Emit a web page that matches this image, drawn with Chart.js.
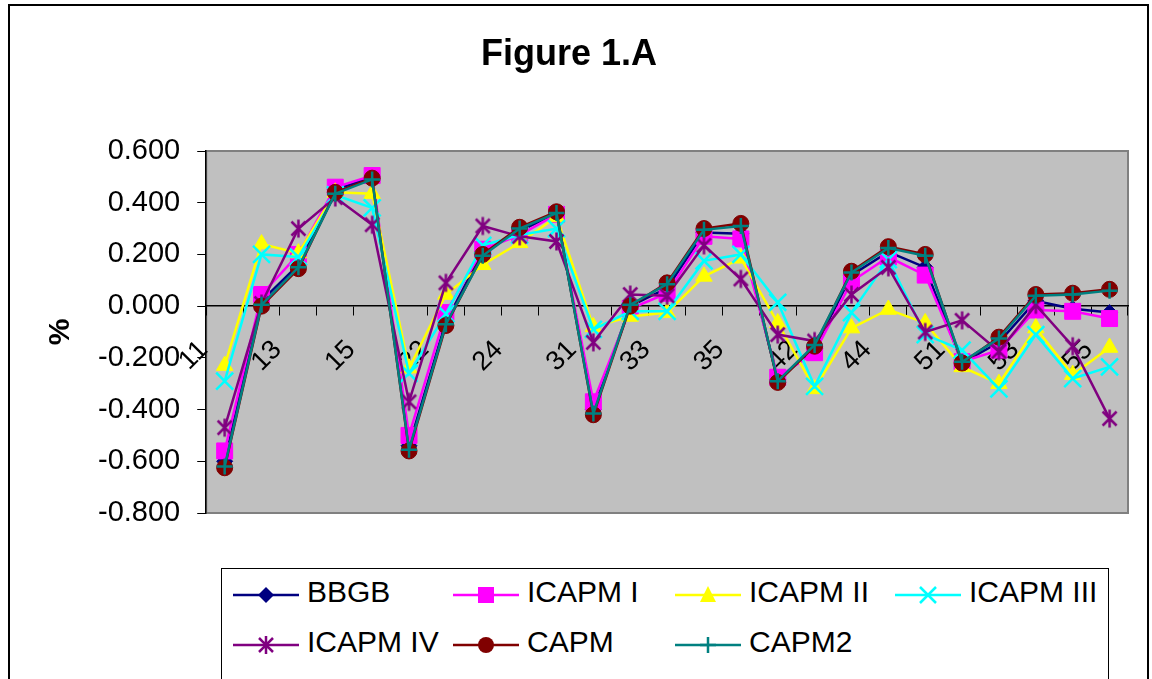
<!DOCTYPE html>
<html><head><meta charset="utf-8">
<script src="https://cdn.jsdelivr.net/npm/chart.js@4/dist/chart.umd.min.js"></script>
<style>
html,body{margin:0;padding:0;background:#fff;width:1152px;height:679px;overflow:hidden;font-family:"Liberation Sans",Arial,sans-serif;}
#c{position:absolute;left:0;top:0;}
#frame{position:absolute;left:8px;top:4px;width:1137px;height:720px;border:2px solid #000;pointer-events:none;}
#legend{position:absolute;left:221px;top:568px;width:886px;height:140px;border:1.5px solid #000;background:#fff;}
.item{position:absolute;height:40px;display:flex;align-items:center;white-space:nowrap;}
.item svg{display:block;}
.item span{font-size:30px;color:#000;margin-left:8px;line-height:40px;position:relative;top:-3px;}
</style></head>
<body>
<canvas id="c" width="1152" height="679"></canvas>
<div id="frame"></div>
<div id="legend"></div>
<script>
const categories = ['11','12','13','14','15','21','22','23','24','25','31','32','33','34','35','41','42','43','44','45','51','52','53','54','55'];
const yTicks = [-0.8,-0.6,-0.4,-0.2,0,0.2,0.4,0.6];
const chartTitle = 'Figure 1.A';
const yTitle = '%';
const seriesNames = ['BBGB','ICAPM I','ICAPM II','ICAPM III','ICAPM IV','CAPM','CAPM2'];

const bbgb    = [-0.60, 0.02, 0.16, 0.45, 0.50, -0.54, -0.06, 0.21, 0.29, 0.36, -0.40, 0.00, 0.07, 0.285, 0.28, -0.285, -0.165, 0.12, 0.21, 0.15, -0.22, -0.14, 0.02, -0.01, -0.025];
const icapm1  = [-0.56, 0.045, 0.20, 0.46, 0.505, -0.50, -0.025, 0.22, 0.275, 0.355, -0.37, -0.01, 0.05, 0.27, 0.26, -0.275, -0.18, 0.095, 0.19, 0.12, -0.215, -0.17, -0.015, -0.02, -0.048];
const icapm2  = [-0.23, 0.24, 0.205, 0.44, 0.435, -0.24, 0.045, 0.16, 0.245, 0.345, -0.08, -0.04, -0.025, 0.115, 0.185, -0.065, -0.32, -0.085, -0.013, -0.065, -0.235, -0.30, -0.085, -0.265, -0.16];
const icapm3  = [-0.29, 0.20, 0.19, 0.43, 0.38, -0.26, -0.03, 0.235, 0.275, 0.30, -0.09, -0.02, -0.02, 0.175, 0.20, 0.015, -0.31, -0.025, 0.18, -0.11, -0.17, -0.32, -0.11, -0.28, -0.235];
const icapm4  = [-0.47, 0.01, 0.30, 0.42, 0.315, -0.37, 0.09, 0.31, 0.27, 0.25, -0.14, 0.045, 0.04, 0.235, 0.105, -0.11, -0.135, 0.045, 0.15, -0.10, -0.055, -0.175, 0.005, -0.155, -0.435];
const capm    = [-0.625, 0.00, 0.145, 0.44, 0.495, -0.56, -0.075, 0.20, 0.305, 0.365, -0.42, 0.00, 0.09, 0.30, 0.32, -0.295, -0.155, 0.135, 0.23, 0.20, -0.22, -0.12, 0.045, 0.05, 0.065];
const capm2   = [-0.62, 0.005, 0.15, 0.435, 0.49, -0.555, -0.07, 0.195, 0.30, 0.36, -0.415, 0.005, 0.085, 0.295, 0.31, -0.29, -0.15, 0.13, 0.225, 0.195, -0.215, -0.125, 0.04, 0.045, 0.06];

const FONT = '"Liberation Sans", Arial, sans-serif';
Chart.defaults.font.family = FONT;
Chart.defaults.color = '#000';

function makeStar(color, r, d, lw){
  const s = Math.ceil(2*r + lw + 2);
  const c = document.createElement('canvas'); c.width = s; c.height = s;
  const g = c.getContext('2d'); g.strokeStyle = color; g.lineWidth = lw; g.lineCap='butt';
  const m = s/2;
  g.beginPath();
  g.moveTo(m, m-r); g.lineTo(m, m+r);
  g.moveTo(m-d, m-d); g.lineTo(m+d, m+d);
  g.moveTo(m-d, m+d); g.lineTo(m+d, m-d);
  g.stroke();
  return c;
}

const styles = [
  {color:'#000080', pointStyle:'rectRot', radius:8, pbw:1},
  {color:'#FF00FF', pointStyle:'rect', radius:11.3, pbw:1},
  {color:'#FFFF00', pointStyle:'triangle', radius:9.5, pbw:1},
  {color:'#00FFFF', pointStyle:'crossRot', radius:12, pbw:2.5},
  {color:'#800080', pointStyle:makeStar('#800080', 9, 7, 2.5), radius:9, pbw:2.5},
  {color:'#800000', pointStyle:'circle', radius:8, pbw:1},
  {color:'#008080', pointStyle:'cross', radius:8, pbw:2.5}
];
const seriesData = [bbgb, icapm1, icapm2, icapm3, icapm4, capm, capm2];

const datasets = seriesData.map((d, i) => ({
  label: seriesNames[i],
  data: d,
  borderColor: styles[i].color,
  backgroundColor: styles[i].color,
  borderWidth: 2.5,
  pointStyle: styles[i].pointStyle,
  pointRadius: styles[i].radius,
  pointBackgroundColor: styles[i].color,
  pointBorderColor: styles[i].color,
  pointBorderWidth: styles[i].pbw,
  tension: 0,
  order: 6 - i
}));

const plotBg = {
  id: 'plotBg',
  beforeDraw(chart){
    const {ctx, chartArea:a} = chart;
    ctx.save();
    ctx.fillStyle = '#c0c0c0';
    ctx.fillRect(a.left, a.top, a.right - a.left, a.bottom - a.top);
    ctx.strokeStyle = '#808080';
    ctx.lineWidth = 2;
    ctx.strokeRect(a.left, a.top, a.right - a.left, a.bottom - a.top);
    ctx.restore();
  }
};

new Chart(document.getElementById('c'), {
  type: 'line',
  data: { labels: categories, datasets },
  plugins: [plotBg],
  options: {
    responsive: false,
    animation: false,
    devicePixelRatio: 1,
    events: [],
    layout: { padding: { left: 10, right: 24, top: 0, bottom: 166 } },
    plugins: {
      legend: { display: false },
      tooltip: { enabled: false },
      title: { display: true, text: chartTitle, color:'#000', font: { size: 36, weight: 'bold', family: FONT }, padding: { top: 33.4, bottom: 74.4 } }
    },
    scales: {
      x: {
        type: 'category',
        position: { y: 0 },
        offset: true,
        grid: { display: true, offset: true, drawOnChartArea: false, drawTicks: true, tickLength: 9, color: '#000', lineWidth: 1 },
        border: { display: true, color: '#000', width: 1.5 },
        ticks: { autoSkip: false, maxRotation: 45, minRotation: 45, labelOffset: -21, padding: 19, color: '#000',
          font: { size: 27, family: FONT },
          callback: (v, i) => (i % 2 === 0 ? categories[i] : '') }
      },
      y: {
        position: 'left',
        min: -0.8, max: 0.6,
        afterBuildTicks: s => { s.ticks = yTicks.map(v => ({ value: v })); },
        grid: { drawOnChartArea: false, drawTicks: true, tickLength: 9, color: '#000' },
        border: { display: true, color: '#000', width: 1.5 },
        ticks: { padding: 17, color: '#000', font: { size: 29, family: FONT }, callback: v => Number(v).toFixed(3) },
        title: { display: true, text: yTitle, color: '#000', font: { size: 30, weight: 'bold', family: FONT }, padding: { top: 33, bottom: 2 } }
      }
    }
  }
});

// HTML legend
const legendPos = [[11,6],[231,6],[453,6],[673,6],[11,56],[231,56],[453,56]];
function markerSvg(i){
  const c = styles[i].color;
  let m = '';
  switch(i){
    case 0: m = `<polygon points="33,12 41,20 33,28 25,20" fill="${c}"/>`; break;
    case 1: m = `<rect x="25" y="12" width="16" height="16" fill="${c}"/>`; break;
    case 2: m = `<polygon points="33,11 41,27 25,27" fill="${c}"/>`; break;
    case 3: m = `<path d="M25,12 L41,28 M25,28 L41,12" stroke="${c}" stroke-width="2.5"/>`; break;
    case 4: m = `<path d="M33,11 L33,29 M26,13 L40,27 M26,27 L40,13" stroke="${c}" stroke-width="2.5"/>`; break;
    case 5: m = `<circle cx="33" cy="20" r="8" fill="${c}"/>`; break;
    case 6: m = `<path d="M33,12 L33,28 M25,20 L41,20" stroke="${c}" stroke-width="2.5"/>`; break;
  }
  return `<svg width="66" height="40" viewBox="0 0 66 40"><line x1="0" y1="20" x2="66" y2="20" stroke="${c}" stroke-width="2.5"/>${m}</svg>`;
}
const lg = document.getElementById('legend');
seriesNames.forEach((n, i) => {
  const d = document.createElement('div');
  d.className = 'item';
  d.style.left = legendPos[i][0] + 'px';
  d.style.top = legendPos[i][1] + 'px';
  d.innerHTML = markerSvg(i) + '<span>' + n + '</span>';
  lg.appendChild(d);
});
</script>
</body></html>
